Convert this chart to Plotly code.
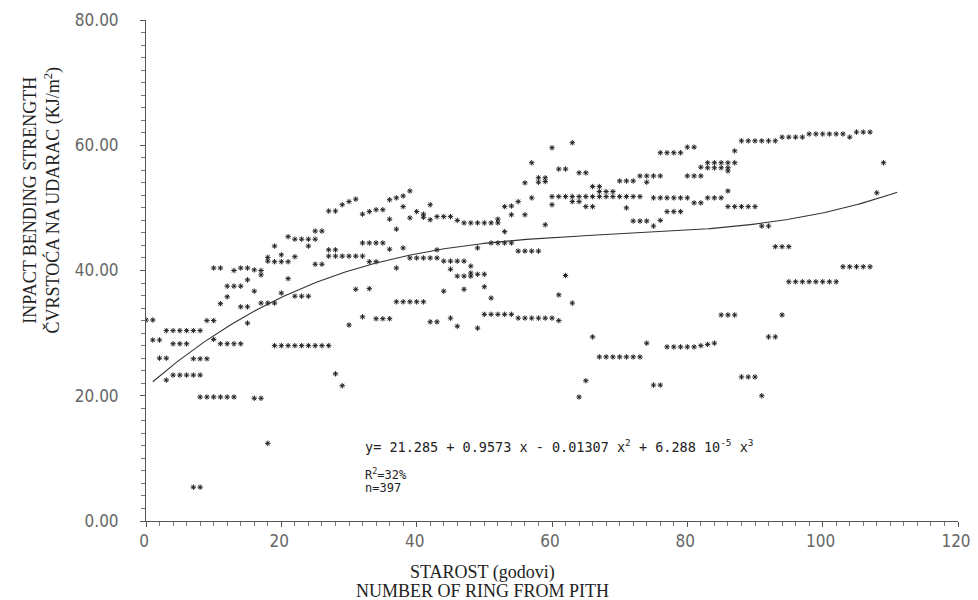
import numpy as np
import plotly.graph_objects as go

# ---- data (ring number from pith, impact bending strength) ----
ring_a = [0, 1, 1, 2, 2, 3, 3, 3, 4, 5, 6, 7, 8, 4, 5, 6, 4, 5, 6, 7, 8, 7, 8, 9,
          8, 9, 10, 11, 12, 13, 9, 10, 10, 11, 12, 13, 14, 11, 12, 12, 13, 14, 10, 11,
          13, 14, 15, 16, 17, 17, 15, 16, 14, 15, 15, 17, 18, 19, 18, 18, 19, 19, 20, 21,
          20, 20, 21, 21, 22, 23, 24, 25, 22, 22, 23, 24, 24, 25, 26, 25, 26, 27, 28, 27, 28,
          27, 28, 29, 30, 31, 32, 29, 30, 31, 31, 33, 30,
          19, 20, 21, 22, 23, 24, 25, 26, 27, 16, 17, 18, 28, 29, 7, 8]
str_a = [32.1, 32.1, 28.9, 28.9, 26.0, 26.0, 22.5, 30.4, 30.4, 30.4, 30.4, 30.4, 30.4, 28.3, 28.3, 28.3,
         23.3, 23.3, 23.3, 23.3, 23.3, 25.9, 25.9, 25.9,
         19.8, 19.8, 19.8, 19.8, 19.8, 19.8, 32.0, 32.0, 29.0, 28.3, 28.3, 28.3, 28.3, 34.7, 35.8,
         37.5, 37.5, 37.5, 40.4, 40.4,
         40.0, 40.4, 40.4, 40.1, 40.0, 39.3, 38.5, 36.7, 34.2, 34.2, 31.6, 34.8, 34.8, 34.8, 41.5, 42.1,
         43.9, 41.4, 41.4, 41.4,
         42.5, 36.4, 45.4, 38.7, 45.0, 45.0, 45.0, 45.0, 42.2, 35.9, 35.9, 35.9, 43.9, 46.3, 46.3, 41.0,
         41.0, 49.5, 49.5, 43.3, 43.3,
         42.3, 42.3, 42.3, 42.3, 42.3, 42.3, 50.5, 51.0, 51.4, 37.0, 37.1, 31.3,
         28.0, 28.0, 28.0, 28.0, 28.0, 28.0, 28.0, 28.0, 28.0, 19.6, 19.6, 12.4, 23.5, 21.6, 5.4, 5.4]

ring_b = [32, 33, 34, 35, 36, 37, 38, 39, 36, 37, 38, 39, 40, 41, 41, 42, 42, 43, 44, 45, 46,
          47, 48, 49, 50, 51, 52, 52, 53, 54, 55, 53, 54, 56, 56, 57, 57, 58, 58, 59, 59, 59,
          60, 61, 62, 60, 61, 62, 63, 64, 65, 66, 67, 68, 69, 70, 71, 72, 73, 67, 68, 69, 60, 63,
          62, 61, 63, 64, 65, 66, 67, 63, 64, 65, 66, 70, 71, 72, 73, 74, 75, 76, 74, 71,
          75, 76, 77, 78, 79, 80, 81, 82, 83, 84, 85, 86, 72, 73, 74, 75, 76, 77, 78, 79,
          76, 77, 78, 79, 80, 81, 80, 81, 82, 82, 83, 84, 85, 86, 83, 84, 85, 86, 86, 87, 87,
          88, 89, 90, 91, 92, 93, 86, 87, 88, 89, 90, 91, 92, 93, 94, 95, 85, 86, 87, 66, 92, 93]
str_b = [49.0, 49.4, 49.7, 49.7, 51.3, 51.6, 51.9, 52.7, 48.2, 46.6, 50.2, 48.4, 49.4, 49.0, 48.5,
         50.5, 48.1, 48.6, 48.6, 48.6, 48.0,
         47.6, 47.6, 47.6, 47.6, 47.6, 47.6, 48.2, 50.2, 50.3, 51.0, 46.2, 48.9, 48.9, 54.0, 57.2,
         51.6, 54.8, 54.1, 54.8, 54.2, 47.3,
         59.6, 56.2, 56.2, 51.8, 51.8, 51.8, 51.8, 51.8, 51.8, 51.8, 51.8, 51.8, 51.8, 51.8, 51.8,
         51.8, 51.8, 52.6, 52.6, 52.6, 50.5, 60.4,
         39.2, 36.1, 34.8, 55.6, 55.6, 53.4, 53.4, 51.0, 51.0, 50.2, 50.2, 54.3, 54.3, 54.3, 55.1,
         55.1, 55.1, 55.1, 54.1, 50.0,
         51.6, 51.6, 51.6, 51.6, 51.6, 51.6, 50.8, 50.8, 51.6, 51.6, 51.6, 52.7, 47.9, 47.9, 47.9,
         47.1, 48.0, 49.4, 49.4, 49.4,
         58.8, 58.8, 58.8, 58.8, 59.7, 59.7, 55.1, 55.1, 55.1, 56.5, 57.2, 57.2, 57.2, 57.2, 56.4,
         56.4, 56.4, 56.4, 55.9, 57.2, 59.1,
         60.7, 60.7, 60.7, 60.7, 60.7, 60.7, 50.2, 50.2, 50.2, 50.2, 50.2, 47.1, 47.1, 43.8, 43.8,
         43.8, 32.9, 32.9, 32.9, 29.4, 29.4, 29.4]

ring_c = [94, 95, 96, 97, 98, 99, 100, 101, 102, 103, 104, 105, 106, 107, 109, 108,
          103, 104, 105, 106, 107, 95, 96, 97, 98, 99, 100, 101, 102, 94,
          67, 68, 69, 70, 71, 72, 73, 74, 77, 78, 79, 80, 81, 82, 83, 84,
          65, 64, 75, 76, 88, 89, 90, 91]
str_c = [61.3, 61.3, 61.3, 61.3, 61.8, 61.8, 61.8, 61.8, 61.8, 61.8, 61.3, 62.1, 62.1, 62.1, 57.2, 52.4,
         40.6, 40.6, 40.6, 40.6, 40.6, 38.2, 38.2, 38.2, 38.2, 38.2, 38.2, 38.2, 38.2, 32.9,
         26.2, 26.2, 26.2, 26.2, 26.2, 26.2, 26.2, 28.4, 27.8, 27.8, 27.8, 27.8, 27.8, 28.0, 28.2, 28.4,
         22.4, 19.8, 21.7, 21.7, 23.0, 23.0, 23.0, 20.0]

ring_d = [32, 33, 34, 35, 33, 34, 36, 38, 37, 39, 40, 41, 42, 43, 44, 45, 46, 47, 48, 45,
          46, 47, 48, 48, 49, 50, 50, 51, 44, 47, 37, 38, 39, 40, 41, 43, 51, 52, 53, 54,
          55, 56, 57, 58, 49, 32, 34, 35, 36, 42, 43, 45, 46, 49, 50, 51, 52, 53, 54,
          55, 56, 57, 58, 59, 60, 61]
str_d = [44.4, 44.4, 44.4, 44.4, 41.4, 41.4, 43.4, 43.6, 40.4, 42.0, 42.0, 42.0, 42.0, 42.0, 41.5,
         41.5, 41.5, 41.5, 40.7, 40.2,
         39.1, 39.1, 39.1, 39.6, 39.4, 39.4, 37.4, 35.6, 36.7, 37.0, 35.0, 35.0, 35.0, 35.0, 35.0,
         43.3, 44.4, 44.4, 44.4, 44.4,
         43.1, 43.1, 43.1, 43.1, 43.6, 32.6, 32.3, 32.3, 32.3, 31.8, 31.8, 32.4, 31.1, 30.8, 33.0,
         33.0, 33.0, 33.0, 33.0,
         32.4, 32.4, 32.4, 32.4, 32.4, 32.4, 32.0]

# regression printed on the chart
coef = [21.285, 0.9573, -0.01307, 6.288e-5]
fit_range = [1, 111]

x_ticks = [0, 20, 40, 60, 80, 100, 120]
y_ticks = [0, 20, 40, 60, 80]
y_tick_text = ["0.00", "20.00", "40.00", "60.00", "80.00"]

rings = ring_a + ring_b + ring_c + ring_d
strength = str_a + str_b + str_c + str_d

xf = np.linspace(fit_range[0], fit_range[1], 300)
yf = coef[0] + coef[1] * xf + coef[2] * xf ** 2 + coef[3] * xf ** 3

fig = go.Figure()
fig.add_trace(go.Scatter(
    x=rings, y=strength, mode="markers",
    marker=dict(symbol="asterisk-open", size=4.5, color="#222",
                line=dict(color="#222", width=1)),
    hoverinfo="x+y", showlegend=False))
fig.add_trace(go.Scatter(x=xf, y=yf, mode="lines",
                         line=dict(color="#333", width=1.1), showlegend=False))

tick_font = dict(family="DejaVu Sans Condensed, Liberation Sans Narrow, Liberation Sans, sans-serif",
                 size=17, color="#666")

# the page body adds an 8 px offset, so the figure is shifted by 8 px
fig.update_layout(
    width=970, height=592,
    margin=dict(l=138, r=20, t=12, b=79, autoexpand=False),
    paper_bgcolor="white", plot_bgcolor="white",
    xaxis=dict(range=[0, 120], tickvals=x_ticks, ticks="outside", ticklen=5, automargin=False,
               tickcolor="#555", showline=True, linecolor="#555", linewidth=1,
               showgrid=False, zeroline=False, tickfont=tick_font, ticklabeloverflow="allow",
               ticklabelshift=-2,
               minor=dict(dtick=2, ticks="outside", ticklen=4, tickcolor="#777")),
    yaxis=dict(range=[0, 80], tickvals=y_ticks, ticktext=y_tick_text, ticks="outside",
               ticklen=5, tickcolor="#555", showline=True, linecolor="#555", linewidth=1,
               showgrid=False, zeroline=False, tickfont=tick_font, ticklabelstandoff=18,
               automargin=False,
               minor=dict(dtick=2, ticks="outside", ticklen=4, tickcolor="#777")),
)

title_font = dict(family="Liberation Serif, DejaVu Serif, serif", size=18, color="#222")
fig.add_annotation(xref="paper", yref="paper", x=-0.128, y=0.64, xanchor="center", yanchor="middle",
                   textangle=-90, showarrow=False, align="center", font=title_font,
                   text="INPACT BENDING STRENGTH<br>ČVRSTOĆA NA UDARAC (KJ/m<sup>2</sup>)")
fig.add_annotation(x=0.415, y=-0.102, xref="paper", yref="paper", xanchor="center", yanchor="middle",
                   showarrow=False, font=title_font, text="STAROST (godovi)")
fig.add_annotation(x=0.415, y=-0.14, xref="paper", yref="paper", xanchor="center", yanchor="middle",
                   showarrow=False, font=title_font, text="NUMBER OF RING FROM PITH")

eq_font = dict(family="DejaVu Sans Mono, monospace", size=13.5, color="#222")
fig.add_annotation(x=32, y=11.9, xref="x", yref="y", xanchor="left", yanchor="middle", showarrow=False,
                   font=eq_font,
                   text="y= 21.285 + 0.9573 x - 0.01307 x<sup>2</sup> + 6.288 10<sup>-5</sup> x<sup>3</sup>")
eq_small = dict(family="DejaVu Sans Mono, monospace", size=12, color="#222")
fig.add_annotation(x=32, y=7.5, xref="x", yref="y", xanchor="left", yanchor="middle", showarrow=False,
                   font=eq_small, text="R<sup>2</sup>=32%")
fig.add_annotation(x=32, y=5.2, xref="x", yref="y", xanchor="left", yanchor="middle", showarrow=False,
                   font=eq_small, text="n=397")

fig.write_html("out.html")
